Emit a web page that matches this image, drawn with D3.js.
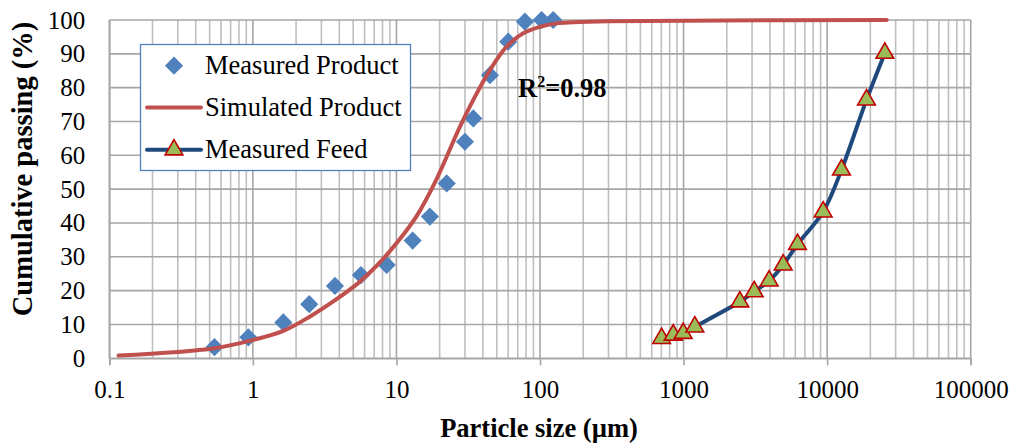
<!DOCTYPE html>
<html>
<head>
<meta charset="utf-8">
<script src="https://cdn.jsdelivr.net/npm/d3@7"></script>
<style>
  body { margin: 0; background: #fff; }
  svg text { font-family: "Liberation Serif", "Times New Roman", serif; fill: #000; }
</style>
</head>
<body>
<div id="chart"></div>
<script>
// Measured product (diamonds)
var prodX = [0.54, 0.93, 1.63, 2.47, 3.73, 5.66, 8.55, 12.97, 17.1, 22.4, 30.0, 34.3, 44.8, 60.1, 78.5, 102.6, 123.6];
var prodY = [3.3, 6.2, 10.6, 16.0, 21.4, 24.6, 27.6, 34.8, 41.9, 51.7, 64.0, 70.9, 83.7, 93.6, 99.5, 100, 100];

// Simulated product (red curve)
var simX = [0.116, 0.54, 1.0, 1.63, 2.49, 3.63, 5.55, 7.27, 10.0, 13.75, 18.9, 27.7, 34.3, 44.8, 58.5, 76.4, 100, 130, 170, 300, 1000, 26000];
var simY = [0.8, 3.0, 5.4, 8.1, 12.3, 16.8, 22.6, 27.3, 34.0, 41.9, 52.7, 68.5, 76.4, 85.2, 92.1, 96.1, 98.0, 99.0, 99.3, 99.6, 99.8, 100];

// Measured feed (triangles + blue line)
var feedX = [703, 847, 994, 1198, 2466, 3105, 3945, 4940, 6220, 9380, 12590, 18800, 25240];
var feedY = [5.9, 6.9, 7.4, 9.3, 16.7, 19.7, 22.9, 27.6, 33.7, 43.3, 55.7, 76.4, 90.2];

var xTicks = [0.1, 1, 10, 100, 1000, 10000, 100000];
var xTickLabels = ["0.1", "1", "10", "100", "1000", "10000", "100000"];
var yTicks = [0, 10, 20, 30, 40, 50, 60, 70, 80, 90, 100];

var legendNames = ["Measured Product", "Simulated Product", "Measured Feed"];

var width = 1014, height = 445;
var mLeft = 109.3, mRight = 970.7, mTop = 20, mBottom = 358.3;

var red = "#c0504d", blue = "#4f81bd", navy = "#1f497d";

var svg = d3.select("#chart").append("svg")
    .attr("width", width)
    .attr("height", height);

var x = d3.scaleLog().domain([0.1, 100000]).range([mLeft, mRight]);
var y = d3.scaleLinear().domain([0, 100]).range([mBottom, mTop]);

// Grid: vertical lines at every 1..9 of each decade
var vLines = [];
for (var e = -1; e < 5; e++) {
  for (var m = 1; m < 10; m++) vLines.push(m * Math.pow(10, e));
}
vLines.push(100000);

svg.append("g").selectAll("line")
    .data(vLines)
    .enter().append("line")
    .attr("x1", function(d) { return x(d); })
    .attr("x2", function(d) { return x(d); })
    .attr("y1", mTop)
    .attr("y2", mBottom)
    .attr("stroke", function(d) { return xTicks.indexOf(d) >= 0 ? "#a6a6a6" : "#bfbfbf"; })
    .attr("stroke-width", 1.6);

svg.append("g").selectAll("line")
    .data(yTicks)
    .enter().append("line")
    .attr("x1", mLeft)
    .attr("x2", mRight)
    .attr("y1", function(d) { return y(d); })
    .attr("y2", function(d) { return y(d); })
    .attr("stroke", "#a6a6a6")
    .attr("stroke-width", 1.6);

// x axis ticks and labels
var xAxis = d3.axisBottom(x)
    .tickValues(xTicks)
    .tickFormat(function(d, i) { return xTickLabels[i]; })
    .tickSize(7)
    .tickPadding(15);
var gx = svg.append("g")
    .attr("transform", "translate(0," + mBottom + ")")
    .call(xAxis);
gx.select(".domain").attr("stroke", "#a6a6a6").attr("stroke-width", 1.6);
gx.selectAll(".tick line").attr("stroke", "#a6a6a6").attr("stroke-width", 1.6);
gx.selectAll(".tick text")
    .style("font-family", "'Liberation Serif', 'Times New Roman', serif")
    .style("font-size", "25px")
    .attr("fill", "#000");

// y axis labels
var yAxis = d3.axisLeft(y)
    .tickValues(yTicks)
    .tickSize(0)
    .tickPadding(24);
var gy = svg.append("g")
    .attr("transform", "translate(" + mLeft + ",0)")
    .call(yAxis);
gy.select(".domain").attr("stroke", "#a6a6a6").attr("stroke-width", 1.6);
gy.selectAll(".tick text")
    .style("font-family", "'Liberation Serif', 'Times New Roman', serif")
    .style("font-size", "25px")
    .attr("fill", "#000");

// Axis titles
svg.append("text")
    .attr("transform", "translate(32,169) rotate(-90)")
    .attr("text-anchor", "middle")
    .style("font-size", "28.5px")
    .style("font-weight", "bold")
    .text("Cumulative passing (%)");

svg.append("text")
    .attr("x", (mLeft + mRight) / 2 - 1)
    .attr("y", 437)
    .attr("text-anchor", "middle")
    .style("font-size", "26.5px")
    .style("font-weight", "bold")
    .text("Particle size (µm)");

// Data marks
var diamond = d3.symbol().type(d3.symbolDiamond2).size(210);
var tri = d3.symbol().type(d3.symbolTriangle2).size(225);

svg.append("g").selectAll("path")
    .data(d3.range(prodX.length))
    .enter().append("path")
    .attr("d", diamond)
    .attr("transform", function(i) { return "translate(" + x(prodX[i]) + "," + y(prodY[i]) + ")"; })
    .attr("fill", blue);

var simLine = d3.line()
    .x(function(i) { return x(simX[i]); })
    .y(function(i) { return y(simY[i]); })
    .curve(d3.curveCatmullRom.alpha(0.5));

svg.append("path")
    .datum(d3.range(simX.length))
    .attr("d", simLine)
    .attr("fill", "none")
    .attr("stroke", red)
    .attr("stroke-width", 4)
    .attr("stroke-linecap", "round");

var feedLine = d3.line()
    .x(function(i) { return x(feedX[i]); })
    .y(function(i) { return y(feedY[i]); })
    .curve(d3.curveCatmullRom.alpha(0.5));

svg.append("path")
    .datum(d3.range(feedX.length))
    .attr("d", feedLine)
    .attr("fill", "none")
    .attr("stroke", navy)
    .attr("stroke-width", 4)
    .attr("stroke-linecap", "round");

svg.append("g").selectAll("path")
    .data(d3.range(feedX.length))
    .enter().append("path")
    .attr("d", tri)
    .attr("transform", function(i) { return "translate(" + x(feedX[i]) + "," + y(feedY[i]) + ")"; })
    .attr("fill", "#9bbb59")
    .attr("stroke", "#c00000")
    .attr("stroke-width", 1.6);

// R squared label
var r2 = svg.append("text")
    .attr("x", 518)
    .attr("y", 97)
    .style("font-size", "26.5px")
    .style("font-weight", "bold");
r2.append("tspan").text("R");
r2.append("tspan").attr("dy", -10).style("font-size", "16px").text("2");
r2.append("tspan").attr("dy", 10).text("=0.98");

// Legend
var lg = svg.append("g");
lg.append("rect")
    .attr("x", 140.5).attr("y", 44.5)
    .attr("width", 270).attr("height", 126)
    .attr("fill", "#fff")
    .attr("stroke", "#4f81bd")
    .attr("stroke-width", 1.3);

var rowY = [65.7, 107.5, 149.8];
var items = lg.selectAll("g.item")
    .data(legendNames)
    .enter().append("g")
    .attr("class", "item")
    .attr("transform", function(d, i) { return "translate(0," + rowY[i] + ")"; });

items.filter(function(d, i) { return i > 0; })
    .append("line")
    .attr("x1", 147).attr("x2", 201)
    .attr("stroke", function(d, i) { return i === 0 ? red : navy; })
    .attr("stroke-width", 4)
    .attr("stroke-linecap", "round");

items.filter(function(d, i) { return i === 0; })
    .append("path")
    .attr("d", diamond)
    .attr("transform", "translate(174,0)")
    .attr("fill", blue);

items.filter(function(d, i) { return i === 2; })
    .append("path")
    .attr("d", tri)
    .attr("transform", "translate(174,0)")
    .attr("fill", "#9bbb59")
    .attr("stroke", "#c00000")
    .attr("stroke-width", 1.6);

items.append("text")
    .attr("x", 205)
    .attr("y", 8)
    .style("font-size", "26.5px")
    .text(function(d) { return d; });
</script>
</body>
</html>
